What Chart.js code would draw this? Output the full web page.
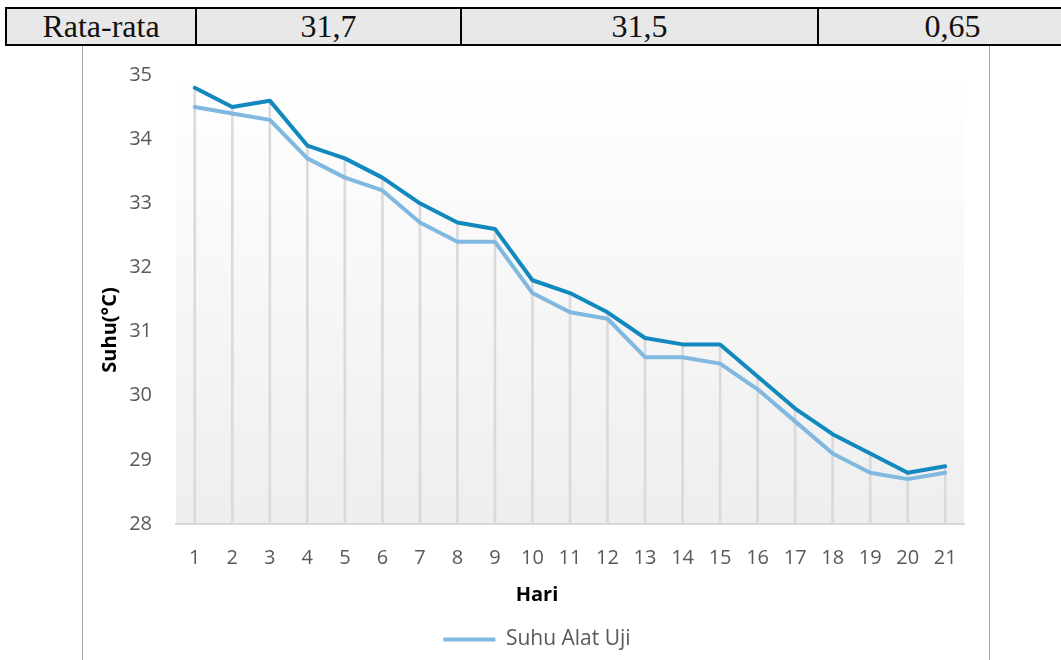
<!DOCTYPE html>
<html>
<head>
<meta charset="utf-8">
<script src="https://cdn.jsdelivr.net/npm/chart.js@4/dist/chart.umd.min.js"></script>
<style>
    html, body { margin: 0; padding: 0; background: #fff; width: 1061px; height: 660px; overflow: hidden; position: relative; }
    table.ringkas {
        position: absolute; left: 5px; top: 7px; width: 1080px;
        border-collapse: collapse; table-layout: fixed;
        font-family: "Liberation Serif", "Times New Roman", serif; font-size: 32px; color: #111;
    }
    table.ringkas td {
        background: #e8e8e8; height: 35px; padding: 0; text-align: center;
        border-top: 2.5px solid #000; border-bottom: 2.5px solid #000;
        border-left: 2px solid #000; line-height: 35px;
    }
    table.ringkas td:first-child { border-left: 2.5px solid #000; }
    .bingkai {
        position: absolute; left: 82px; top: 46px; width: 906px; height: 614px;
        border-left: 1.5px solid #a6a6a6; border-right: 1.5px solid #a6a6a6;
    }
    .wadah { position: absolute; left: 1px; top: 1px; width: 906px; height: 613px; }
</style>
</head>
<body>
<table class="ringkas">
    <colgroup>
        <col style="width:190px">
        <col style="width:265px">
        <col style="width:357px">
        <col style="width:268px">
    </colgroup>
    <tr>
        <td>Rata-rata</td>
        <td>31,7</td>
        <td>31,5</td>
        <td>0,65</td>
    </tr>
</table>
<div class="bingkai">
    <div class="wadah"><canvas id="grafikSuhu"></canvas></div>
</div>
<script>
// Data suhu harian
const hari = ['1', '2', '3', '4', '5', '6', '7', '8', '9', '10', '11', '12', '13', '14', '15', '16', '17', '18', '19', '20', '21'];
const suhuAlatUji = [34.5, 34.4, 34.3, 33.7, 33.4, 33.2, 32.7, 32.4, 32.4, 31.6, 31.3, 31.2, 30.6, 30.6, 30.5, 30.1, 29.6, 29.1, 28.8, 28.7, 28.8];
const suhuTermometer = [34.8, 34.5, 34.6, 33.9, 33.7, 33.4, 33.0, 32.7, 32.6, 31.8, 31.6, 31.3, 30.9, 30.8, 30.8, 30.3, 29.8, 29.4, 29.1, 28.8, 28.9];
const sumbuYMin = 28;
const sumbuYMax = 35;

const FONT = '"Open Sans", "Noto Sans", sans-serif';

// latar area plot bergradasi seperti Excel
const latarGradasi = {
    id: 'latarGradasi',
    beforeDraw(chart) {
        const { ctx, chartArea: a } = chart;
        const g = ctx.createLinearGradient(0, a.top, 0, a.bottom);
        g.addColorStop(0, '#ffffff');
        g.addColorStop(1, '#eeeeee');
        ctx.save();
        ctx.fillStyle = g;
        ctx.fillRect(a.left, a.top, a.right - a.left, a.bottom - a.top);
        ctx.restore();
    }
};

// judul sumbu Y, diletakkan di tengah tinggi grafik seperti di Excel
const judulSumbuY = {
    id: 'judulSumbuY',
    afterDraw(chart) {
        const ctx = chart.ctx;
        ctx.save();
        ctx.translate(26, 283);
        ctx.rotate(-Math.PI / 2);
        ctx.font = 'bold 20px ' + FONT;
        ctx.fillStyle = '#000';
        ctx.textAlign = 'center';
        ctx.textBaseline = 'middle';
        ctx.fillText('Suhu(°C)', 0, 0);
        ctx.restore();
    }
};

const ctx = document.getElementById('grafikSuhu').getContext('2d');
new Chart(ctx, {
    data: {
        labels: hari,
        datasets: [
            {
                type: 'line',
                label: 'Suhu Alat Uji',
                data: suhuAlatUji,
                borderColor: '#80b8e0',
                backgroundColor: '#80b8e0',
                borderWidth: 4,
                pointRadius: 0,
                tension: 0,
                borderCapStyle: 'round',
                borderJoinStyle: 'round',
                order: 2
            },
            {
                type: 'line',
                label: 'Suhu Termometer',
                data: suhuTermometer,
                borderColor: '#1289be',
                backgroundColor: '#1289be',
                borderWidth: 4,
                pointRadius: 0,
                tension: 0,
                borderCapStyle: 'round',
                borderJoinStyle: 'round',
                order: 1
            },
            {
                // garis jatuh (drop lines) dari titik ke sumbu
                type: 'bar',
                label: 'drop',
                data: suhuTermometer.map(v => [sumbuYMin, v]),
                backgroundColor: '#dadada',
                barThickness: 2,
                order: 3
            }
        ]
    },
    options: {
        responsive: true,
        maintainAspectRatio: false,
        animation: false,
        layout: { padding: { top: 28, right: 0, bottom: 0, left: 0 } },
        plugins: {
            tooltip: { enabled: false },
            title: {
                display: true,
                text: 'Hari',
                position: 'bottom',
                weight: 500,
                color: '#000',
                font: { family: FONT, size: 20, weight: 'bold' },
                padding: { top: 9, bottom: 10 }
            },
            legend: {
                position: 'bottom',
                labels: {
                    filter: item => item.text === 'Suhu Alat Uji',
                    usePointStyle: true,
                    pointStyle: 'line',
                    pointStyleWidth: 52,
                    color: '#595959',
                    font: { family: FONT, size: 21 },
                    padding: 12
                }
            }
        },
        scales: {
            x: {
                offset: true,
                grid: { display: false, drawTicks: false },
                border: { display: true, color: '#d9d9d9', width: 2 },
                ticks: { color: '#595959', font: { family: FONT, size: 20 }, padding: 22, maxRotation: 0, autoSkip: false },
                afterFit(scale) { scale.height = 50; }
            },
            y: {
                min: sumbuYMin,
                max: sumbuYMax,
                grid: { display: false, drawTicks: false },
                border: { display: false },
                ticks: { stepSize: 1, color: '#595959', font: { family: FONT, size: 20 }, padding: 24 },
                afterFit(scale) {
                    scale.width = 92;
                    scale.paddingTop = 0;
                    scale.paddingBottom = 0;
                }
            },
            // ruang kosong di kanan area plot
            kanan: {
                type: 'linear',
                position: 'right',
                grid: { display: false, drawTicks: false },
                border: { display: false },
                ticks: { display: false },
                afterFit(scale) { scale.width = 26; }
            }
        }
    },
    plugins: [latarGradasi, judulSumbuY]
});
</script>
</body>
</html>
